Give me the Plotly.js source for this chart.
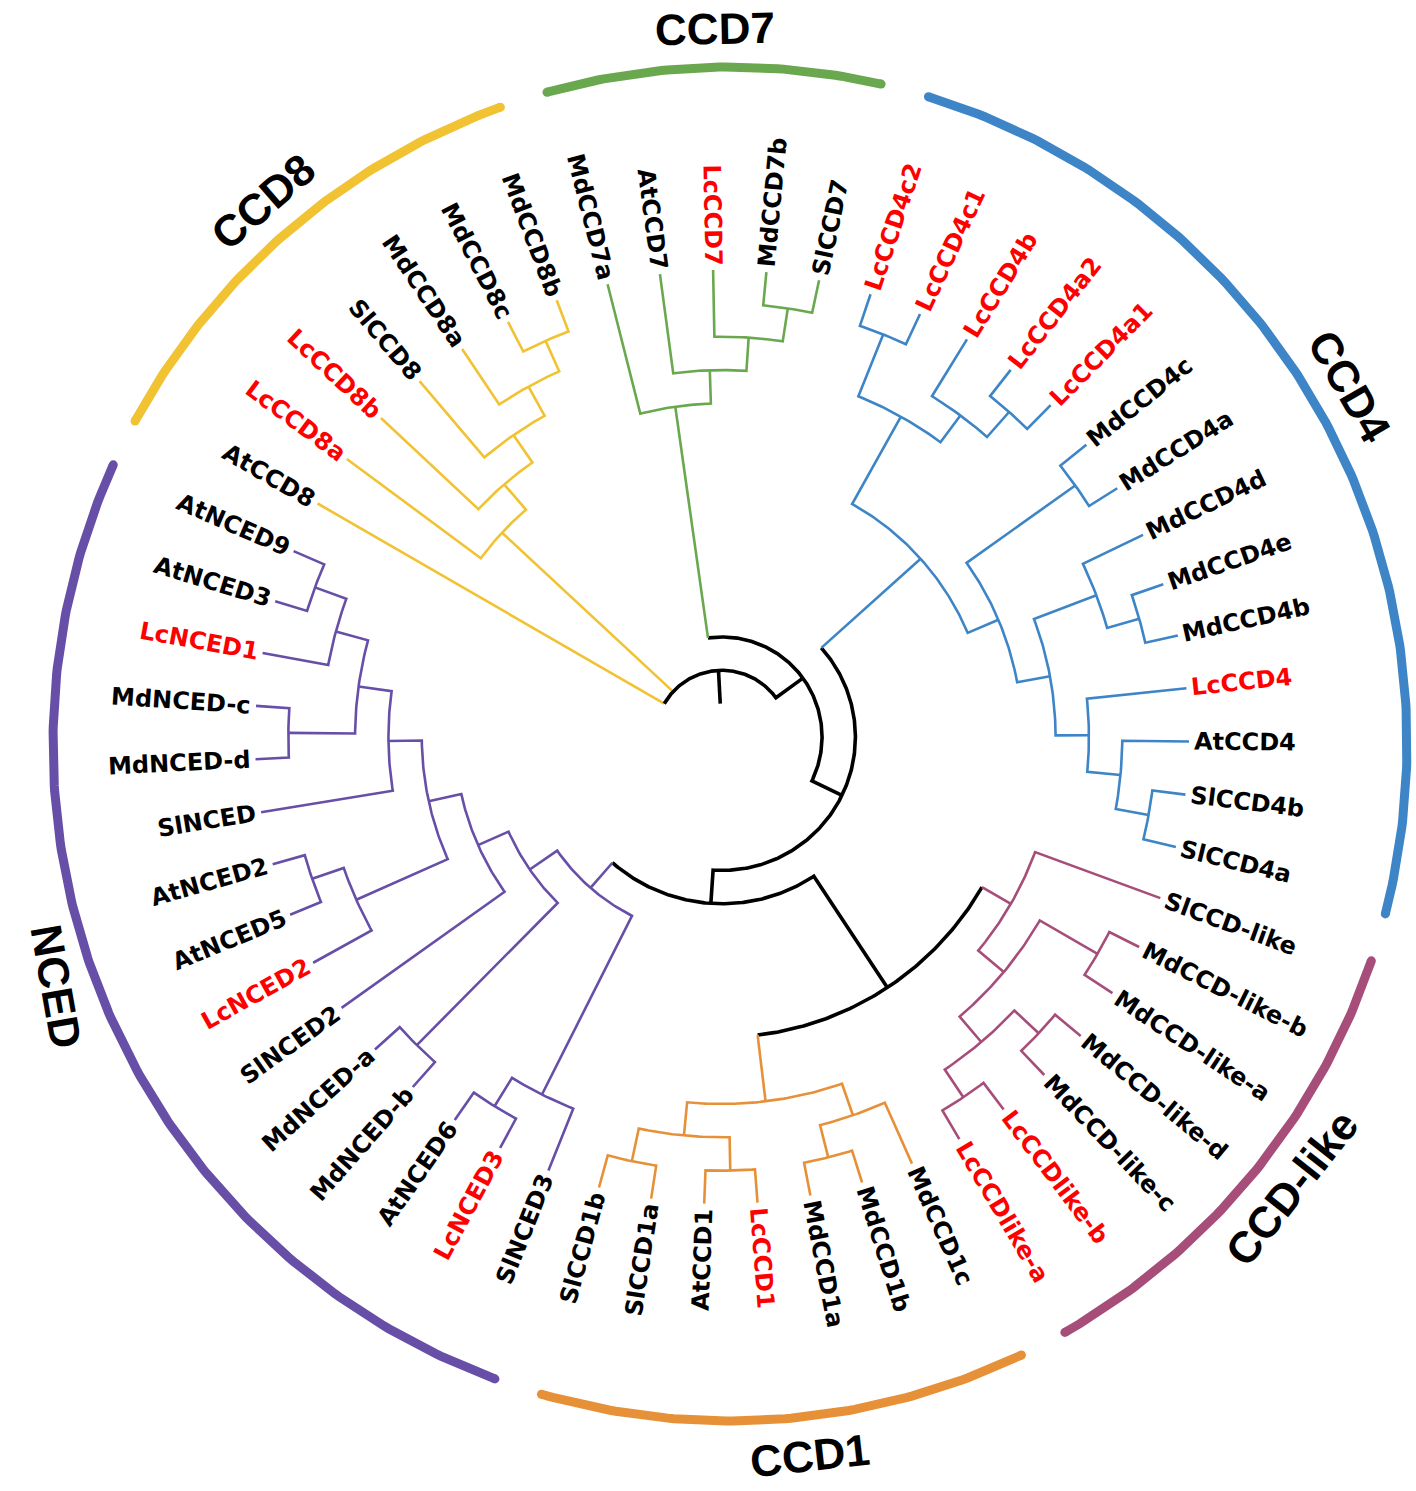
<!DOCTYPE html>
<html>
<head>
<meta charset="utf-8">
<script src="https://cdn.plot.ly/plotly-3.0.1.min.js"></script>
<style>html,body{margin:0;padding:0;background:#fff}#chart{width:1416px;height:1491px}</style>
</head>
<body>
<div id="chart"></div>
<script>
// ================= DATA =================
// Tree topology (cladogram), leaves listed clockwise
const ccd8Core   = ["LcCCD8a",["LcCCD8b",["SlCCD8",["MdCCD8a",["MdCCD8c","MdCCD8b"]]]]];
const ccd7Clade  = ["MdCCD7a",["AtCCD7",["LcCCD7",["MdCCD7b","SlCCD7"]]]];
const ccd4Clade  = [[["LcCCD4c2","LcCCD4c1"],["LcCCD4b",["LcCCD4a2","LcCCD4a1"]]],
                    [["MdCCD4c","MdCCD4a"],[["MdCCD4d",["MdCCD4e","MdCCD4b"]],["LcCCD4",["AtCCD4",["SlCCD4b","SlCCD4a"]]]]]];
const ccdLikeClade = ["SlCCD-like",[["MdCCD-like-b","MdCCD-like-a"],[["MdCCD-like-d","MdCCD-like-c"],["LcCCDlike-b","LcCCDlike-a"]]]];
const ccd1Clade  = [["MdCCD1c",["MdCCD1b","MdCCD1a"]],[["LcCCD1","AtCCD1"],["SlCCD1a","SlCCD1b"]]];
const ncedClade  = [["SlNCED3",["LcNCED3","AtNCED6"]],
                    [["MdNCED-b","MdNCED-a"],["SlNCED2",[["LcNCED2",["AtNCED5","AtNCED2"]],["SlNCED",[["MdNCED-d","MdNCED-c"],["LcNCED1",["AtNCED3","AtNCED9"]]]]]]]];
const tree = ["AtCCD8", ccd8Core, [ccd7Clade, [ccd4Clade, [[ccdLikeClade, ccd1Clade], ncedClade]]]];

// Groups
const groupNames  = ["CCD8","CCD7","CCD4","CCD-like","CCD1","NCED"];
const groupColors = ["#f1c232","#6aa84f","#3d85c6","#a64d79","#e69138","#674ea7"];
const groupClades = [["AtCCD8", ccd8Core], ccd7Clade, ccd4Clade, ccdLikeClade, ccd1Clade, ncedClade];

// Litchi genes (highlighted in red)
const litchiGenes = ["LcCCD8a","LcCCD8b","LcCCD7","LcCCD4c2","LcCCD4c1","LcCCD4b","LcCCD4a2","LcCCD4a1",
                     "LcCCD4","LcCCDlike-b","LcCCDlike-a","LcCCD1","LcNCED3","LcNCED2","LcNCED1"];

// ================= LAYOUT / STYLE =================
const W = 1416, H = 1491;
const CX = 722, CY = 737, TIP_R = 467, LEVELS = 14;
const START = 210, STEP = 360 / 55;
const OCX = 730, OCY = 744, OUT_R = 677, OUT_PAD0 = 1.5, OUT_PAD1 = 0.9;
const LABEL_FONT = "DejaVu Sans", LABEL_SIZE = 24, LABEL_GAP = 5;
const GROUP_FONT = "Liberation Sans", GROUP_SIZE = 44, GROUP_R = 716;
const groupLabelAngle = {"CCD8":229.3, "CCD7":268.8, "CCD4":330.0, "CCD-like":398.3, "CCD1":443.6, "NCED":520.2};
const groupLabelRotation = {"NCED": 80};

const rad = d => d * Math.PI / 180;
const P = (r, a, cx = CX, cy = CY) => [cx + r * Math.cos(rad(a)), cy + r * Math.sin(rad(a))];
const flatten = n => typeof n === "string" ? [n] : n.flatMap(flatten);

const leafGroup = {};
groupClades.forEach((c, i) => flatten(c).forEach(l => leafGroup[l] = i));

let counter = 0;
const leafAngle = {};
function build(n) {
  if (typeof n === "string") {
    const a = START + STEP * (counter++);
    leafAngle[n] = a;
    return {name: n, a, h: 0, leaves: [n]};
  }
  const kids = n.map(build);
  const h = 1 + Math.max(...kids.map(k => k.h));
  const a = (kids[0].a + kids[kids.length - 1].a) / 2;
  return {kids, a, h, leaves: kids.flatMap(k => k.leaves)};
}
const root = build(tree);
const R = h => TIP_R * (LEVELS - h) / LEVELS;
function colorOf(node) {
  const g = new Set(node.leaves.map(l => leafGroup[l]));
  return g.size === 1 ? groupColors[[...g][0]] : "#000000";
}

const paths = {};
function addPoly(col, pts) {
  if (!paths[col]) paths[col] = {x: [], y: []};
  pts.forEach(p => { paths[col].x.push(p[0]); paths[col].y.push(p[1]); });
  paths[col].x.push(null); paths[col].y.push(null);
}
function arcPts(r, a0, a1, cx = CX, cy = CY) {
  const n = Math.max(2, Math.ceil(Math.abs(a1 - a0) / 0.5) + 1);
  const pts = [];
  for (let i = 0; i < n; i++) pts.push(P(r, a0 + (a1 - a0) * i / (n - 1), cx, cy));
  return pts;
}
function draw(node) {
  if (!node.kids) return;
  const col = colorOf(node), rn = R(node.h);
  const first = node.kids[0], last = node.kids[node.kids.length - 1];
  const cf = colorOf(first), cl = colorOf(last);
  let poly = [];
  if (cf === col) poly.push(P(R(first.h), first.a)); else addPoly(cf, [P(R(first.h), first.a), P(rn, first.a)]);
  poly = poly.concat(arcPts(rn, first.a, last.a));
  if (cl === col) poly.push(P(R(last.h), last.a)); else addPoly(cl, [P(rn, last.a), P(R(last.h), last.a)]);
  addPoly(col, poly);
  node.kids.slice(1, -1).forEach(k => addPoly(colorOf(k), [P(rn, k.a), P(R(k.h), k.a)]));
  node.kids.forEach(draw);
}
draw(root);
addPoly("#000000", [P(R(root.h + 1), root.a), P(R(root.h), root.a)]);

const traces = Object.keys(paths).map(col => ({
  type: "scatter", mode: "lines", x: paths[col].x, y: paths[col].y,
  line: {color: col, width: col === "#000000" ? 3.6 : 2.6}, hoverinfo: "skip", connectgaps: false
}));

// group arcs
groupNames.forEach((g, i) => {
  const angs = flatten(groupClades[i]).map(l => leafAngle[l]);
  const a0 = Math.min(...angs) - OUT_PAD0, a1 = Math.max(...angs) + OUT_PAD1;
  const pts = arcPts(OUT_R, a0, a1, OCX, OCY);
  traces.push({type: "scatter", mode: "lines", x: pts.map(p => p[0]), y: pts.map(p => p[1]),
    line: {color: groupColors[i], width: 9}, hoverinfo: "skip"});
  const e0 = pts[0], e1 = pts[pts.length - 1];
  traces.push({type: "scatter", mode: "markers", x: [e0[0], e1[0]], y: [e0[1], e1[1]],
    marker: {color: groupColors[i], size: 9}, hoverinfo: "skip"});
});

// labels
const ctx = document.createElement("canvas").getContext("2d");
ctx.font = `bold ${LABEL_SIZE}px "${LABEL_FONT}"`;
const annotations = [];
Object.keys(leafAngle).forEach(name => {
  const a = leafAngle[name];
  const w = ctx.measureText(name).width;
  const [x, y] = P(TIP_R + LABEL_GAP + w / 2, a);
  const m = ((a % 360) + 360) % 360;
  let ta;
  if (m <= 90) ta = m; else if (m >= 270) ta = m - 360; else ta = m - 180;
  annotations.push({x, y, xref: "x", yref: "y", text: name, showarrow: false, textangle: ta,
    xanchor: "center", yanchor: "middle",
    font: {family: LABEL_FONT, size: LABEL_SIZE, weight: "bold",
           color: litchiGenes.includes(name) ? "#ff0000" : "#000000"}});
});
groupNames.forEach(g => {
  const a = groupLabelAngle[g];
  const [x, y] = P(GROUP_R, a, OCX, OCY);
  let t = (((a + 90) % 360) + 360) % 360;
  if (t > 90 && t < 270) t -= 180; else if (t >= 270) t -= 360;
  if (groupLabelRotation[g] !== undefined) t = groupLabelRotation[g];
  annotations.push({x, y, xref: "x", yref: "y", text: g, showarrow: false, textangle: t,
    xanchor: "center", yanchor: "middle",
    font: {family: GROUP_FONT, size: GROUP_SIZE, weight: "bold", color: "#000000"}});
});

Plotly.newPlot("chart", traces, {
  width: W, height: H, margin: {l: 0, r: 0, t: 0, b: 0},
  paper_bgcolor: "#ffffff", plot_bgcolor: "#ffffff", showlegend: false,
  xaxis: {range: [0, W], visible: false, fixedrange: true},
  yaxis: {range: [H, 0], visible: false, fixedrange: true},
  annotations
}, {staticPlot: true, displayModeBar: false});
</script>
</body>
</html>
